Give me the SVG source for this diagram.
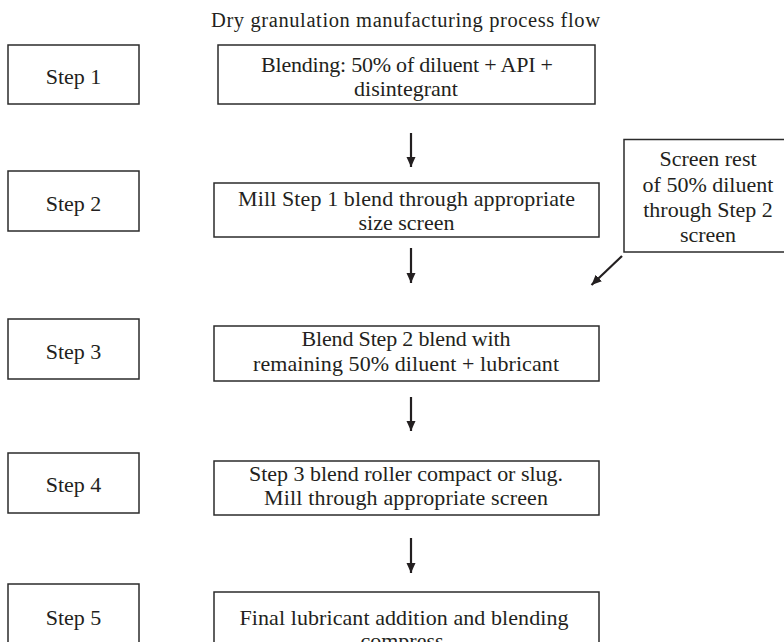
<svg xmlns="http://www.w3.org/2000/svg" width="784" height="642" viewBox="0 0 784 642">
<defs>
<style>
.box{fill:#ffffff;stroke:#2b2b2b;stroke-width:1.5}
.t{font-family:"Liberation Serif","Times New Roman",serif;font-size:22px;fill:#231f20;text-anchor:middle}
.title{font-family:"Liberation Serif","Times New Roman",serif;font-size:20.5px;fill:#231f20}
.arr{stroke:#231f20;stroke-width:2.2;fill:none;marker-end:url(#ah)}
</style>
<marker id="ah" markerUnits="userSpaceOnUse" markerWidth="12" markerHeight="12" refX="10" refY="4.5" orient="auto">
<path d="M0,0 L10,4.5 L0,9 Z" fill="#231f20"/>
</marker>
</defs>
<rect width="784" height="642" fill="#ffffff"/>
<text class="title" x="211" y="27" textLength="389" lengthAdjust="spacing">Dry granulation manufacturing process flow</text>

<g id="step1"><rect class="box" x="8" y="45" width="131" height="59"/><text class="t" x="73.5" y="84">Step 1</text></g>
<g id="step2"><rect class="box" x="8" y="171" width="131" height="60"/><text class="t" x="73.5" y="210.5">Step 2</text></g>
<g id="step3"><rect class="box" x="8" y="319" width="131" height="60"/><text class="t" x="73.5" y="358.5">Step 3</text></g>
<g id="step4"><rect class="box" x="8" y="453" width="131" height="60"/><text class="t" x="73.5" y="492">Step 4</text></g>
<g id="step5"><rect class="box" x="8" y="584" width="131" height="64"/><text class="t" x="73.5" y="625">Step 5</text></g>

<g id="p1"><rect class="box" x="218" y="45" width="377" height="59"/>
<text class="t" x="407" y="72" textLength="292" lengthAdjust="spacing">Blending: 50% of diluent + API +</text>
<text class="t" x="406" y="96">disintegrant</text></g>

<g id="p2"><rect class="box" x="214" y="183" width="385" height="54"/>
<text class="t" x="406.5" y="205.5" textLength="337" lengthAdjust="spacing">Mill Step 1 blend through appropriate</text>
<text class="t" x="406.5" y="229.5">size screen</text></g>

<g id="p3"><rect class="box" x="214" y="326" width="385" height="55"/>
<text class="t" x="406" y="346" textLength="209" lengthAdjust="spacing">Blend Step 2 blend with</text>
<text class="t" x="406" y="371" textLength="306" lengthAdjust="spacing">remaining 50% diluent + lubricant</text></g>

<g id="p4"><rect class="box" x="214" y="461" width="385" height="54"/>
<text class="t" x="406" y="481" textLength="314" lengthAdjust="spacing">Step 3 blend roller compact or slug.</text>
<text class="t" x="406" y="505" textLength="284" lengthAdjust="spacing">Mill through appropriate screen</text></g>

<g id="p5"><rect class="box" x="214" y="592" width="385" height="60"/>
<text class="t" x="404" y="625" textLength="329" lengthAdjust="spacing">Final lubricant addition and blending</text>
<text class="t" x="402" y="648">compress</text></g>

<g id="side"><rect class="box" x="624" y="139.5" width="170" height="112.5"/>
<text class="t" x="708" y="165.5">Screen rest</text>
<text class="t" x="708" y="191.5">of 50% diluent</text>
<text class="t" x="708" y="217">through Step 2</text>
<text class="t" x="708" y="241.5">screen</text></g>

<g id="connectors">
<line class="arr" x1="411" y1="133" x2="411" y2="167"/>
<line class="arr" x1="411" y1="248" x2="411" y2="283"/>
<line class="arr" x1="411" y1="397" x2="411" y2="431"/>
<line class="arr" x1="411" y1="538" x2="411" y2="573"/>
<line class="arr" x1="622" y1="256" x2="591.5" y2="285"/>
</g>
</svg>
